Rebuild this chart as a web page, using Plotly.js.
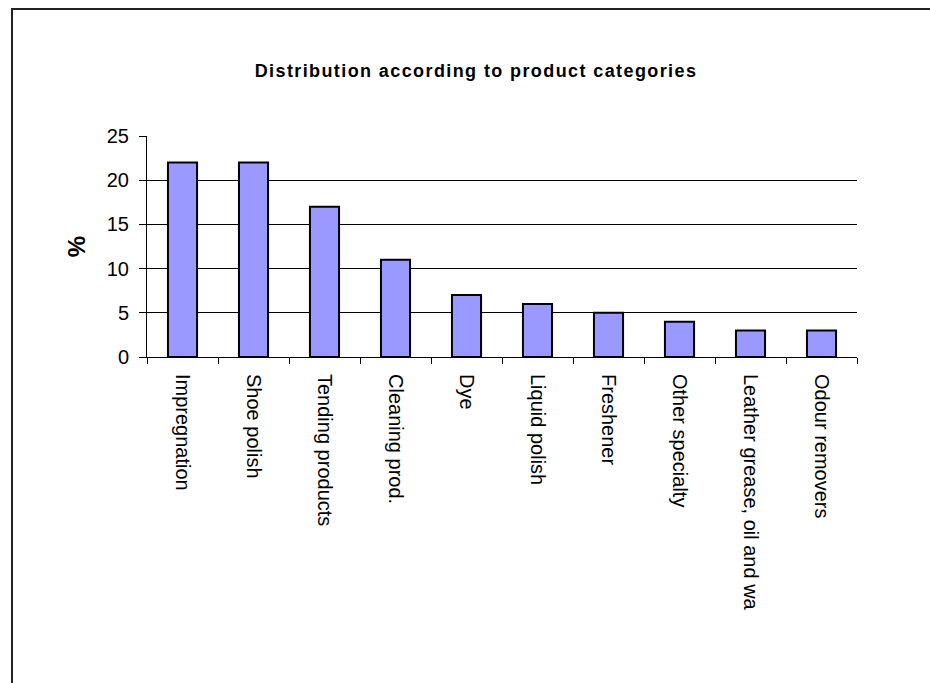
<!DOCTYPE html>
<html>
<head>
<meta charset="utf-8">
<script src="https://cdn.plot.ly/plotly-3.0.1.min.js"></script>
<style>
html,body{margin:0;padding:0;background:#fff;}
#wrap{position:relative;width:930px;height:683px;overflow:hidden;}
#chart{position:absolute;left:0;top:0;width:930px;height:683px;}
#frame{position:absolute;left:11px;top:8px;width:940px;height:700px;border-left:2px solid #222;border-top:2px solid #222;pointer-events:none;}
.gtitle{letter-spacing:1.4px;}
</style>
</head>
<body>
<div id="wrap">
<div id="chart"></div>
<div id="frame"></div>
</div>
<script>
const categories = ["Impregnation","Shoe polish","Tending products","Cleaning prod.","Dye","Liquid polish","Freshener","Other specialty","Leather grease, oil and wa","Odour removers"];
const values = [22, 22, 17, 11, 7, 6, 5, 4, 3, 3];
const yTicks = [0, 5, 10, 15, 20, 25];

const font = "Arial, 'Liberation Sans', sans-serif";

Plotly.newPlot('chart', [{
  type: 'bar',
  x: categories,
  y: values,
  width: 0.41,
  marker: {color: '#9999FF', line: {color: '#000000', width: 2}},
  hoverinfo: 'x+y'
}], {
  width: 930, height: 683,
  paper_bgcolor: 'rgba(0,0,0,0)',
  plot_bgcolor: 'rgba(0,0,0,0)',
  margin: {l: 147, r: 73, t: 136, b: 326},
  showlegend: false,
  title: {
    text: '<b>Distribution according to product categories</b>',
    font: {family: font, size: 18, color: '#000'},
    x: 476/930, xanchor: 'center',
    y: 1 - 71/683, yanchor: 'middle', yref: 'container'
  },
  xaxis: {
    type: 'category',
    tickangle: 90,
    ticks: 'outside', tickson: 'boundaries', ticklen: 6, tickwidth: 1, tickcolor: '#000',
    showline: true, linecolor: '#000', linewidth: 1,
    showgrid: false, zeroline: false,
    tickfont: {family: font, size: 20, color: '#000'},
    ticklabelstandoff: 12
  },
  yaxis: {
    range: [0, 25],
    tickvals: yTicks,
    ticktext: yTicks.map(String),
    ticks: 'outside', ticklen: 7, tickwidth: 1, tickcolor: '#000',
    showline: true, linecolor: '#000', linewidth: 1,
    showgrid: true, gridcolor: '#000', gridwidth: 1,
    zeroline: false,
    tickfont: {family: font, size: 20, color: '#000'},
    ticklabelstandoff: 6,
    title: {text: '<b>%</b>', font: {family: font, size: 24, color: '#000'}, standoff: 14}
  }
}, {displayModeBar: false, staticPlot: true});
</script>
</body>
</html>
